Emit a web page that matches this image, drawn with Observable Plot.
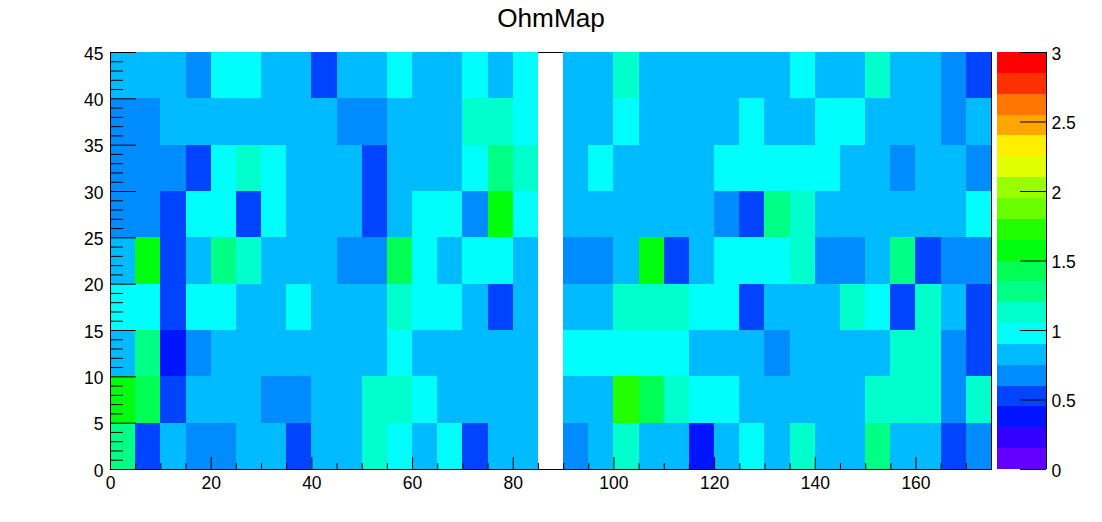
<!DOCTYPE html>
<html>
<head>
<meta charset="utf-8">
<script src="https://cdn.jsdelivr.net/npm/d3@7"></script>
<script src="https://cdn.jsdelivr.net/npm/@observablehq/plot@0.6"></script>
<style>
html,body{margin:0;padding:0;background:#fff;overflow:hidden}
#wrap{position:relative;width:1102px;height:522px}
#wrap svg{position:absolute;top:0;background:transparent;max-width:none}
</style>
</head>
<body>
<div id="wrap"></div>
<script>
const _ = null;
const ohm40to45 = [.82,.82,.82,.68,.98,.98,.82,.82,.52,.82,.82,.98,.82,.82,.98,.82,.98,_,.82,.82,1.12,.82,.82,.82,.82,.82,.82,.98,.82,.82,1.12,.82,.82,.68,.52];
const ohm35to40 = [.68,.68,.82,.82,.82,.82,.82,.82,.82,.68,.68,.82,.82,.82,1.12,1.12,.98,_,.82,.82,.98,.82,.82,.82,.82,.98,.82,.82,.98,.98,.82,.82,.82,.68,.82];
const ohm30to35 = [.68,.68,.68,.52,.98,1.12,.98,.82,.82,.82,.52,.82,.82,.82,.98,1.28,1.12,_,.82,.98,.82,.82,.82,.82,.98,.98,.98,.98,.98,.82,.82,.68,.82,.82,.68];
const ohm25to30 = [.68,.68,.52,.98,.98,.52,.98,.82,.82,.82,.52,.82,.98,.98,.68,1.58,.98,_,.82,.82,.82,.82,.82,.82,.68,.52,1.28,1.12,.82,.82,.82,.82,.82,.82,.98];
const ohm20to25 = [.82,1.58,.52,.82,1.28,1.12,.82,.82,.82,.68,.68,1.42,.98,.82,.98,.98,.82,_,.68,.68,.82,1.58,.52,.82,.98,.98,.98,1.12,.68,.68,.82,1.28,.52,.68,.68];
const ohm15to20 = [.98,.98,.52,.98,.98,.82,.82,.98,.82,.82,.82,1.12,.98,.98,.82,.52,.82,_,.82,.82,1.12,1.12,1.12,.98,.98,.52,.82,.82,.82,1.12,.98,.52,1.12,.82,.52];
const ohm10to15 = [.82,1.28,.38,.68,.82,.82,.82,.82,.82,.82,.82,.98,.82,.82,.82,.82,.82,_,.98,.98,.98,.98,.98,.82,.82,.82,.68,.82,.82,.82,.82,1.12,1.12,.68,.52];
const ohm5to10  = [1.58,1.42,.52,.82,.82,.82,.68,.68,.82,.82,1.12,1.12,.98,.82,.82,.82,.82,_,.82,.82,1.72,1.42,1.12,.98,.98,.82,.82,.82,.82,.82,1.12,1.12,1.12,.68,1.12];
const ohm0to5   = [1.28,.52,.82,.68,.68,.82,.82,.52,.82,.82,1.12,.98,.82,.98,.52,.82,.82,_,.68,.82,1.12,.82,.82,.38,.82,.98,.82,1.12,.82,.82,1.28,.82,.82,.52,.68];

const rows = [
  {y1:0,  y2:5,  values:ohm0to5},
  {y1:5,  y2:10, values:ohm5to10},
  {y1:10, y2:15, values:ohm10to15},
  {y1:15, y2:20, values:ohm15to20},
  {y1:20, y2:25, values:ohm20to25},
  {y1:25, y2:30, values:ohm25to30},
  {y1:30, y2:35, values:ohm30to35},
  {y1:35, y2:40, values:ohm35to40},
  {y1:40, y2:45, values:ohm40to45}
];
const binWidth = 5;
const cells = rows.flatMap(r => r.values.map((v,i) => ({x1:i*binWidth, x2:(i+1)*binWidth, y1:r.y1, y2:r.y2, v}))).filter(d => d.v !== null);

const levels = [0,.15,.3,.45,.6,.75,.9,1.05,1.2,1.35,1.5,1.65,1.8,1.95,2.1,2.25,2.4,2.55,2.7,2.85,3];
const palette = ["#6300ff","#3300ff","#0014ff","#0044ff","#008bff","#00bbff","#00fffc","#00ffcc","#00ff85","#00ff55","#00ff0e","#22ff00","#69ff00","#99ff00","#e0ff00","#ffee00","#ffa700","#ff7700","#ff3000","#ff0000"];
const bands = palette.map((c,i) => ({y1:levels[i], y2:levels[i+1], mid:(levels[i]+levels[i+1])/2}));

const xMajor = [0,20,40,60,80,100,120,140,160];
const xMinor = [5,10,15,25,30,35,45,50,55,65,70,75,85,90,95,105,110,115,125,130,135,145,150,155,165,170,175];
const yMajor = [0,5,10,15,20,25,30,35,40,45];
const yMinor = [1,2,3,4,6,7,8,9,11,12,13,14,16,17,18,19,21,22,23,24,26,27,28,29,31,32,33,34,36,37,38,39,41,42,43,44];
const zTicks = [0,.5,1,1.5,2,2.5,3];

const colorScale = {type:"threshold", domain:levels.slice(1,-1), range:palette};
const font = {fontFamily:"Liberation Sans", fontSize:"17.5px", color:"#000", background:"transparent"};
const W = 881, H = 417;

const main = Plot.plot({
  width:1102, height:522,
  marginLeft:110, marginRight:111, marginTop:52, marginBottom:53,
  style:font,
  x:{domain:[0,175], axis:null},
  y:{domain:[0,45], axis:null},
  color:colorScale,
  marks:[
    Plot.frame({stroke:"#000"}),
    Plot.rect(cells,{x1:"x1",x2:"x2",y1:"y1",y2:"y2",fill:"v",shapeRendering:"crispEdges"}),
    Plot.ruleX([0,175],{stroke:"#000"}),
    Plot.ruleY([0],{stroke:"#000"}),
    Plot.tickX(xMajor,{x:d=>d,insetTop:H-12,stroke:"#000"}),
    Plot.tickX(xMinor,{x:d=>d,insetTop:H-6,stroke:"#000"}),
    Plot.tickY(yMajor,{y:d=>d,insetRight:W-26,stroke:"#000"}),
    Plot.tickY(yMinor,{y:d=>d,insetRight:W-13,stroke:"#000"}),
    Plot.axisX(xMajor,{anchor:"bottom",tickSize:0,tickPadding:7,label:null,fontSize:17.5,fontFamily:"Liberation Sans",fill:"#000"}),
    Plot.axisY(yMajor,{anchor:"left",tickSize:0,tickPadding:7,dy:1.5,label:null,fontSize:17.5,fontFamily:"Liberation Sans",fill:"#000"}),
    Plot.text(["OhmMap"],{frameAnchor:"top",dy:-44,fontSize:26.2,fontFamily:"Liberation Sans",fill:"#000",lineAnchor:"top"})
  ]
});

const bar = Plot.plot({
  width:105, height:522,
  marginLeft:0, marginRight:56, marginTop:52, marginBottom:53,
  style:font,
  x:{domain:[0,1], axis:null},
  y:{domain:[0,3], axis:null},
  color:colorScale,
  marks:[
    Plot.rect(bands,{x1:0,x2:1,y1:"y1",y2:"y2",fill:"mid",shapeRendering:"crispEdges"}),
    Plot.ruleX([1],{stroke:"#000"}),
    Plot.tickY(zTicks,{y:d=>d,insetLeft:23,stroke:"#000"}),
    Plot.axisY(zTicks,{anchor:"right",tickSize:0,tickPadding:5,dy:1.5,label:null,fontSize:17.5,fontFamily:"Liberation Sans",fill:"#000",tickFormat:d=>String(d)})
  ]
});
bar.style.left = "997px";

const wrap = document.getElementById("wrap");
wrap.append(main, bar);
</script>
</body>
</html>
